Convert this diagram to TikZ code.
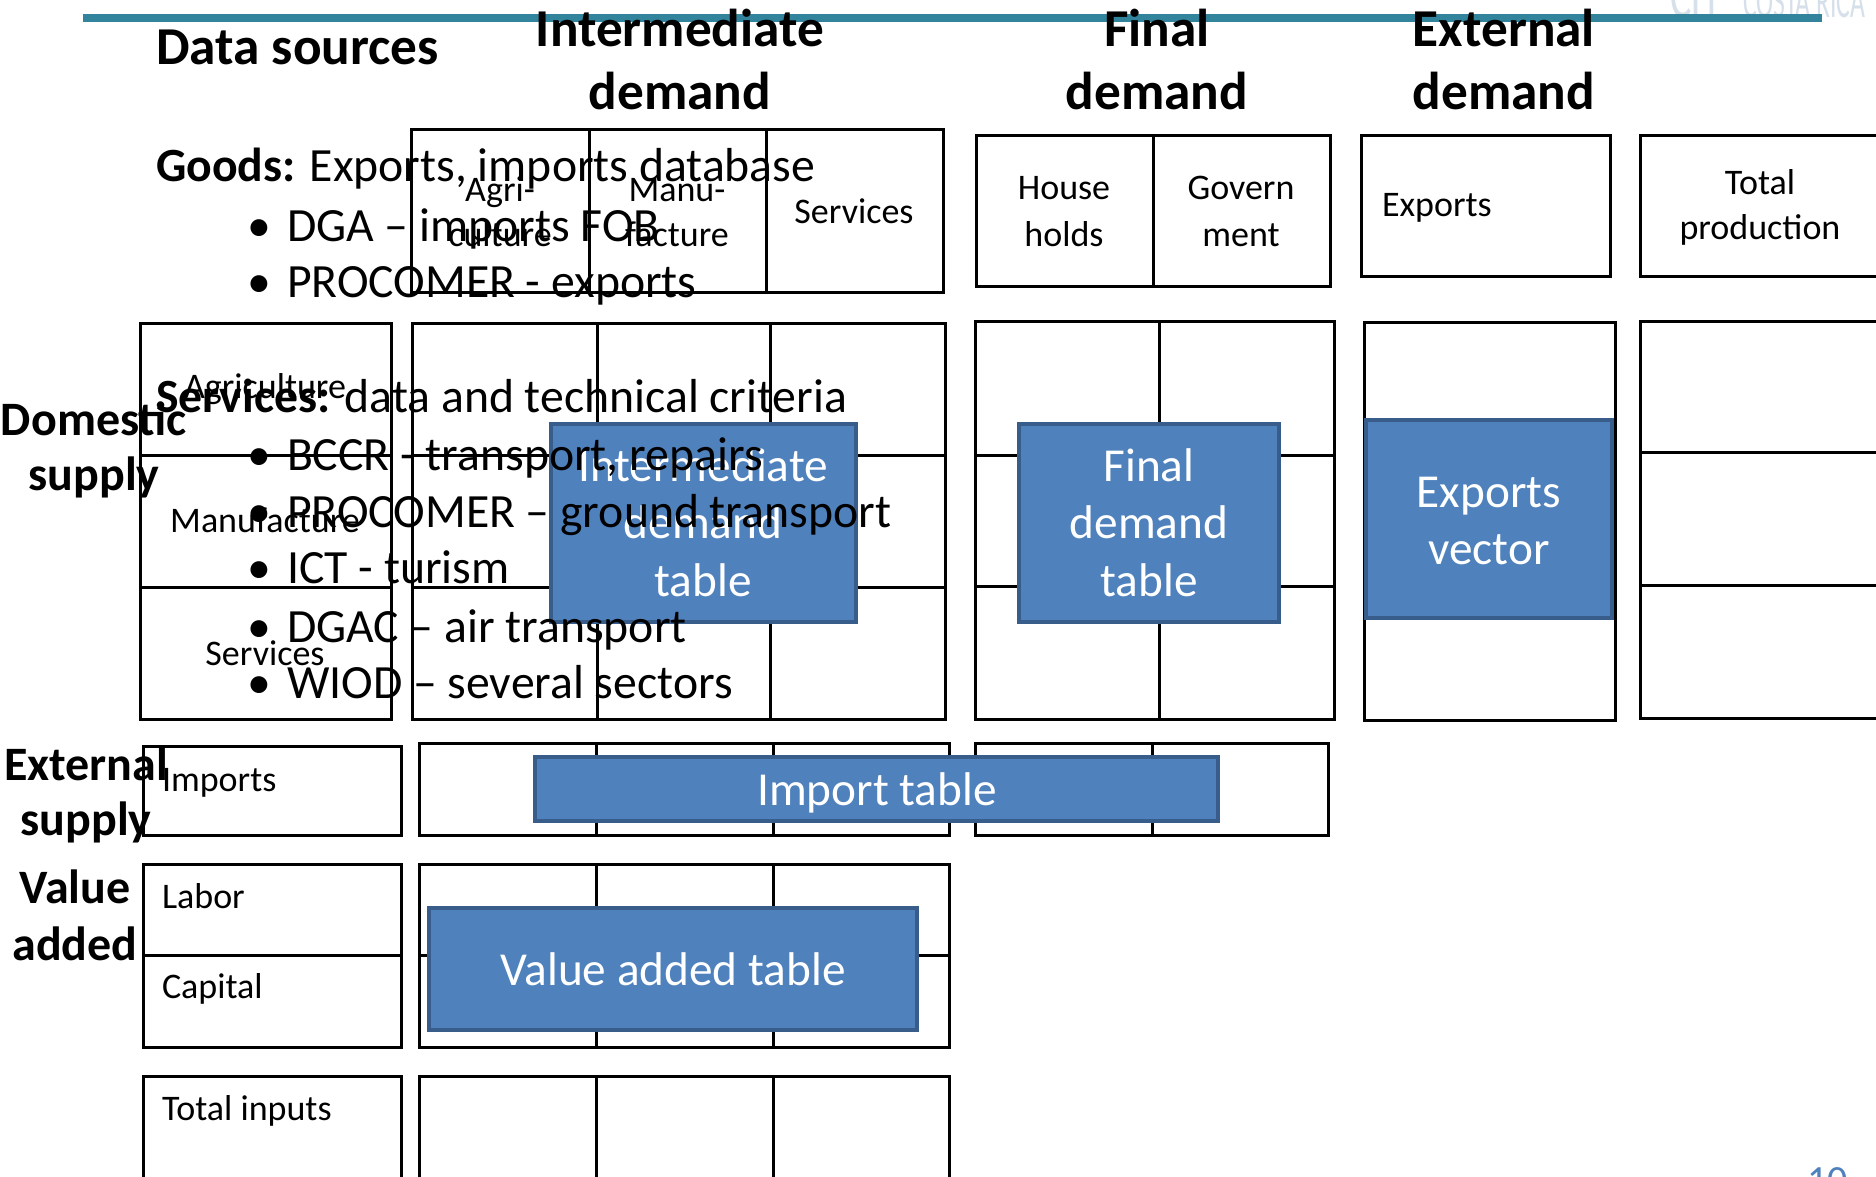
\documentclass[tikz,border=0pt]{standalone}
\usepackage{fontspec}
\setmainfont{Carlito}
\definecolor{linecol}{RGB}{49,132,155}
\definecolor{boxfill}{RGB}{79,129,189}
\definecolor{boxdraw}{RGB}{56,93,138}
\definecolor{logocol}{RGB}{214,224,234}
\newcommand\FSz[1]{\fontsize{#1}{#1}\selectfont}
\begin{document}
\begin{tikzpicture}[x=1pt,y=-1pt,
  every node/.style={inner sep=0pt,outer sep=0pt},
  grid/.style={draw=black,line width=3pt},
  bluebox/.style={draw=boxdraw,fill=boxfill,line width=4pt},
  hdr/.style={font=\FSz{53.3}\bfseries,anchor=base},
  body/.style={font=\FSz{47.7},anchor=base west},
  bul/.style={font=\FSz{47.7},anchor=base},
  small/.style={font=\FSz{36},anchor=base},
  smallw/.style={font=\FSz{36},anchor=base west},
  grp/.style={font=\FSz{48}\bfseries,anchor=base},
  wtxt/.style={font=\FSz{47.3},text=white,anchor=base}]
\clip (0,0) rectangle (1876,1177);
\fill[white] (0,0) rectangle (1876,1177);
% logo (faint, cut by the top edge)
\node[font=\FSz{40},text=logocol,anchor=base west] (logoch) at (1670,18) {\scalebox{1}[1.6]{CH}};
\node[font=\FSz{27},text=logocol,anchor=base west] (logotx) at (1743,18) {\scalebox{0.95}[1.8]{COSTA RICA}};
% top rule
\fill[linecol] (83,14) rectangle (1822,22);
% headers
\node[hdr,anchor=base west] (hds) at (156,65) {Data sources};
\node[hdr] (hi1) at (680,47) {Intermediate};
\node[hdr] (hi2) at (680,110) {demand};
\node[hdr] (hf1) at (1157,47) {Final};
\node[hdr] (hf2) at (1157,110) {demand};
\node[hdr] (he1) at (1504,47) {External};
\node[hdr] (he2) at (1504,110) {demand};
% header boxes
\draw[grid] (411,130) rectangle (943,292) (589,130) -- (589,292) (766,130) -- (766,292);
\draw[grid] (976,136) rectangle (1330,286) (1153,136) -- (1153,286);
\draw[grid] (1361,136) rectangle (1610,276);
\draw[grid] (1640,136) rectangle (1910,276);
\node[small] (ca1) at (500,202) {Agri-};
\node[small] (ca2) at (500,247) {culture};
\node[small] (cm1) at (677,202) {Manu-};
\node[small] (cm2) at (677,247) {facture};
\node[small] (cs) at (854,223) {Services};
\node[small] (ch1) at (1064,200) {House};
\node[small] (ch2) at (1064,246) {holds};
\node[small] (cg1) at (1241,200) {Govern};
\node[small] (cg2) at (1241,246) {ment};
\node[smallw] (cx) at (1382,217) {Exports};
\node[small] (ct1) at (1760,195) {Total};
\node[small] (ct2) at (1760,239) {production};
% domestic supply rows
\draw[grid] (140,323) rectangle (391,719) (140,455) -- (391,455) (140,587) -- (391,587);
\draw[grid] (412,323) rectangle (945,719) (597,323) -- (597,719) (770,323) -- (770,719)
  (412,455) -- (945,455) (412,587) -- (945,587);
\draw[grid] (975,321) rectangle (1334,719) (1159,321) -- (1159,719)
  (975,455) -- (1334,455) (975,586) -- (1334,586);
\draw[grid] (1364,322) rectangle (1615,720) (1364,455) -- (1615,455) (1364,587) -- (1615,587);
\draw[grid] (1640,321) rectangle (1910,718) (1640,452) -- (1910,452) (1640,585) -- (1910,585);
\node[small] (ra) at (265,398) {Agriculture};
\node[small] (rm) at (265,532) {Manufacture};
\node[small] (rs) at (265,665) {Services};
% imports row
\draw[grid] (143,746) rectangle (401,835);
\draw[grid] (419,743) rectangle (949,835) (596,743) -- (596,835) (773,743) -- (773,835);
\draw[grid] (975,743) rectangle (1328,835) (1152,743) -- (1152,835);
\node[smallw] (rim) at (162,791) {Imports};
% value added rows
\draw[grid] (143,864) rectangle (401,1047) (143,955) -- (401,955);
\draw[grid] (419,864) rectangle (949,1047) (596,864) -- (596,1047) (773,864) -- (773,1047)
  (419,955) -- (949,955);
\node[smallw] (rl) at (162,908) {Labor};
\node[smallw] (rc) at (162,998) {Capital};
% total inputs
\draw[grid] (143,1076) rectangle (401,1220);
\draw[grid] (419,1076) rectangle (949,1220) (596,1076) -- (596,1220) (773,1076) -- (773,1220);
\node[smallw] (rt) at (162,1120) {Total inputs};
% group labels
\node[grp] (gd1) at (94,435) {Domestic};
\node[grp] (gd2) at (94,490) {supply};
\node[grp] (ge1) at (86,780) {External};
\node[grp] (ge2) at (86,835) {supply};
\node[grp] (gv1) at (75,903) {Value};
\node[grp] (gv2) at (75,960) {added};
% blue boxes
\node[bluebox,minimum width=305pt,minimum height=198pt] (idt) at (703.5,523) {};
\node[wtxt] (idt1) at (703,481) {Intermediate};
\node[wtxt] (idt2) at (703,538) {demand};
\node[wtxt] (idt3) at (703,596) {table};
\node[bluebox,minimum width=260pt,minimum height=198pt] (fdt) at (1149,523) {};
\node[wtxt] (fdt1) at (1149,481) {Final};
\node[wtxt] (fdt2) at (1149,538) {demand};
\node[wtxt] (fdt3) at (1149,596) {table};
\node[bluebox,minimum width=246pt,minimum height=198pt] (ev) at (1489,519) {};
\node[wtxt] (ev1) at (1489,507) {Exports};
\node[wtxt] (ev2) at (1489,564) {vector};
\node[bluebox,minimum width=683pt,minimum height=64pt] (it) at (876.5,789) {};
\node[wtxt] (it1) at (877,805) {Import table};
\node[bluebox,minimum width=488pt,minimum height=122pt] (vat) at (673,969) {};
\node[wtxt] (vat1) at (673,985) {Value added table};
% data sources overlay text
\node[body] (goods) at (156,182) {\textbf{Goods:} Exports, imports database};
\node[bul] (b1) at (259,241) {•};
\node[body] (t1) at (287,241) {DGA – imports FOB};
\node[bul] (b2) at (259,297) {•};
\node[body] (t2) at (287,297) {PROCOMER - exports};
\node[body] (serv) at (156,412) {\textbf{Services:} data and technical criteria};
\node[bul] (b3) at (259,470) {•};
\node[body] (t3) at (287,470) {BCCR - transport, repairs};
\node[bul] (b4) at (259,527) {•};
\node[body] (t4) at (287,527) {PROCOMER – ground transport};
\node[bul] (b5) at (259,583) {•};
\node[body] (t5) at (287,583) {ICT - turism};
\node[bul] (b6) at (259,642) {•};
\node[body] (t6) at (287,642) {DGAC – air transport};
\node[bul] (b7) at (259,698) {•};
\node[body] (t7) at (287,698) {WIOD – several sectors};
% page number
\node[font=\FSz{40},text=boxfill,anchor=base west] (pg) at (1807,1193) {10};
\end{tikzpicture}
\end{document}
